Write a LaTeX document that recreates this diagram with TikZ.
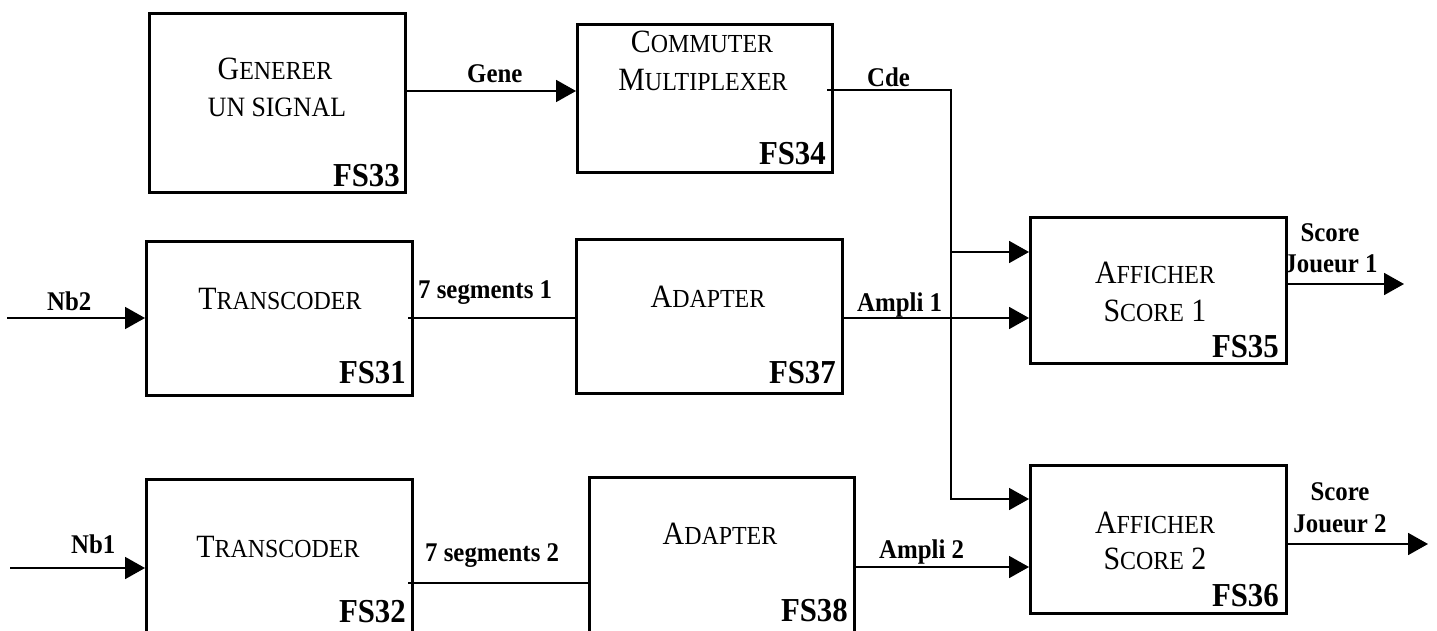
\documentclass[tikz,border=0pt]{standalone}
\usepackage{fontspec}
\setmainfont[FakeStretch=0.92]{Liberation Serif}
\usetikzlibrary{arrows.meta,calc}
\newcommand\Bg[1]{{\fontsize{32.5}{34}\selectfont #1}}
\newcommand\Sm[1]{{\fontsize{26}{28}\selectfont #1}}
\tikzset{
  box/.style={draw, line width=3.3pt, anchor=north west, inner sep=0pt},
  txt/.style={anchor=base, inner sep=0pt},
  fslab/.style={anchor=base east, inner sep=0pt, font=\bfseries\fontsize{33.5}{35}\selectfont},
  sig/.style={anchor=base west, inner sep=0pt, font=\bfseries\fontsize{27}{29}\selectfont},
  wire/.style={line width=1.8pt},
  arr/.style={wire, -{Triangle[length=20pt,width=22pt]}}
}
\begin{document}
\begin{tikzpicture}[x=1pt,y=-1pt]
\clip (0,0) rectangle (1437,631);
\fill[white] (0,0) rectangle (1437,631);

% boxes
\node[box, minimum width=256pt, minimum height=179pt] (fs33) at (148,12) {};
\node[box, minimum width=255pt, minimum height=148pt] (fs34) at (576,23) {};
\node[box, minimum width=266pt, minimum height=154pt] (fs31) at (145,240) {};
\node[box, minimum width=266pt, minimum height=154pt] (fs37) at (575,238) {};
\node[box, minimum width=256pt, minimum height=146pt] (fs35) at (1029,216) {};
\node[box, minimum width=256pt, minimum height=148pt] (fs36) at (1029,464) {};
\node[box, minimum width=266pt, minimum height=170pt] (fs32) at (145,478) {};
\node[box, minimum width=265pt, minimum height=170pt] (fs38) at (588,476) {};

% box texts
\node[txt] (t33a) at (275,80) {\Bg{G}\Sm{ENERER}};
\node[txt] (t33b) at (277,117) {\fontsize{28}{30}\selectfont UN SIGNAL};
\node[txt] (t34a) at (702,53) {\Bg{C}\Sm{OMMUTER}};
\node[txt] (t34b) at (703,91) {\Bg{M}\Sm{ULTIPLEXER}};
\node[txt] (t31) at (280,309) {\Bg{T}\Sm{RANSCODER}};
\node[txt] (t32) at (278,557) {\Bg{T}\Sm{RANSCODER}};
\node[txt] (t37) at (708,307) {\Bg{A}\Sm{DAPTER}};
\node[txt] (t38) at (720,544) {\Bg{A}\Sm{DAPTER}};
\node[txt] (t35a) at (1155,283) {\Bg{A}\Sm{FFICHER}};
\node[txt] (t35b) at (1155,321) {\Bg{S}\Sm{CORE}\Bg{ 1}};
\node[txt] (t36a) at (1155,533) {\Bg{A}\Sm{FFICHER}};
\node[txt] (t36b) at (1155,569) {\Bg{S}\Sm{CORE}\Bg{ 2}};

% FS labels
\node[fslab] (l33) at (400,187) {FS33};
\node[fslab] (l34) at (826,165) {FS34};
\node[fslab] (l31) at (406,383) {FS31};
\node[fslab] (l37) at (836,383) {FS37};
\node[fslab] (l35) at (1279,357) {FS35};
\node[fslab] (l36) at (1279,606) {FS36};
\node[fslab] (l32) at (406,622) {FS32};
\node[fslab] (l38) at (848,621) {FS38};

% level coordinates
\coordinate (gy) at (0,91);
\coordinate (cy) at (0,90);
\coordinate (s1y) at (0,318);
\coordinate (j1y) at (0,252);
\coordinate (j2y) at (0,499);
\coordinate (sc1y) at (0,284);
\coordinate (sc2y) at (0,544);
\coordinate (a2y) at (0,567);
\coordinate (nb1y) at (0,568);
\coordinate (s2y) at (0,583);
\coordinate (vx) at (951,0);
\coordinate (nb2in) at (7,318);
\coordinate (nb1in) at (10,568);
\coordinate (out1) at (1404,284);
\coordinate (out2) at (1428,544);

% connectors
\draw[arr] (fs33.east |- gy) -- (fs34.west |- gy);
\draw[arr] ($(fs34.east |- cy)+(-7,0)$) -| (vx |- j2y) -- (fs36.west |- j2y);
\draw[arr] (vx |- j1y) -- (fs35.west |- j1y);
\draw[arr] (nb2in) -- (fs31.west |- s1y);
\draw[wire] ($(fs31.east |- s1y)+(-6,0)$) -- (fs37.west |- s1y);
\draw[arr] (fs37.east |- s1y) -- (fs35.west |- s1y);
\draw[arr] (fs35.east |- sc1y) -- (out1);
\draw[arr] (nb1in) -- (fs32.west |- nb1y);
\draw[wire] ($(fs32.east |- s2y)+(-6,0)$) -- (fs38.west |- s2y);
\draw[arr] (fs38.east |- a2y) -- (fs36.west |- a2y);
\draw[arr] (fs36.east |- sc2y) -- (out2);

% signal labels
\node[sig] (lgene) at (467,83) {Gene};
\node[sig] (lcde) at (867,87) {Cde};
\node[sig] (lnb2) at (47,310) {Nb2};
\node[sig] (lnb1) at (71,553) {Nb1};
\node[sig] (ls1) at (418,298) {7 segments 1};
\node[sig] (ls2) at (425,561) {7 segments 2};
\node[sig] (la1) at (857,311) {Ampli 1};
\node[sig] (la2) at (879,558) {Ampli 2};
\node[sig, anchor=base] (lsc1a) at (1330,241) {Score};
\node[sig, anchor=base] (lsc1b) at (1331,272) {Joueur 1};
\node[sig, anchor=base] (lsc2a) at (1340,500) {Score};
\node[sig, anchor=base] (lsc2b) at (1340,532) {Joueur 2};
\end{tikzpicture}
\end{document}
